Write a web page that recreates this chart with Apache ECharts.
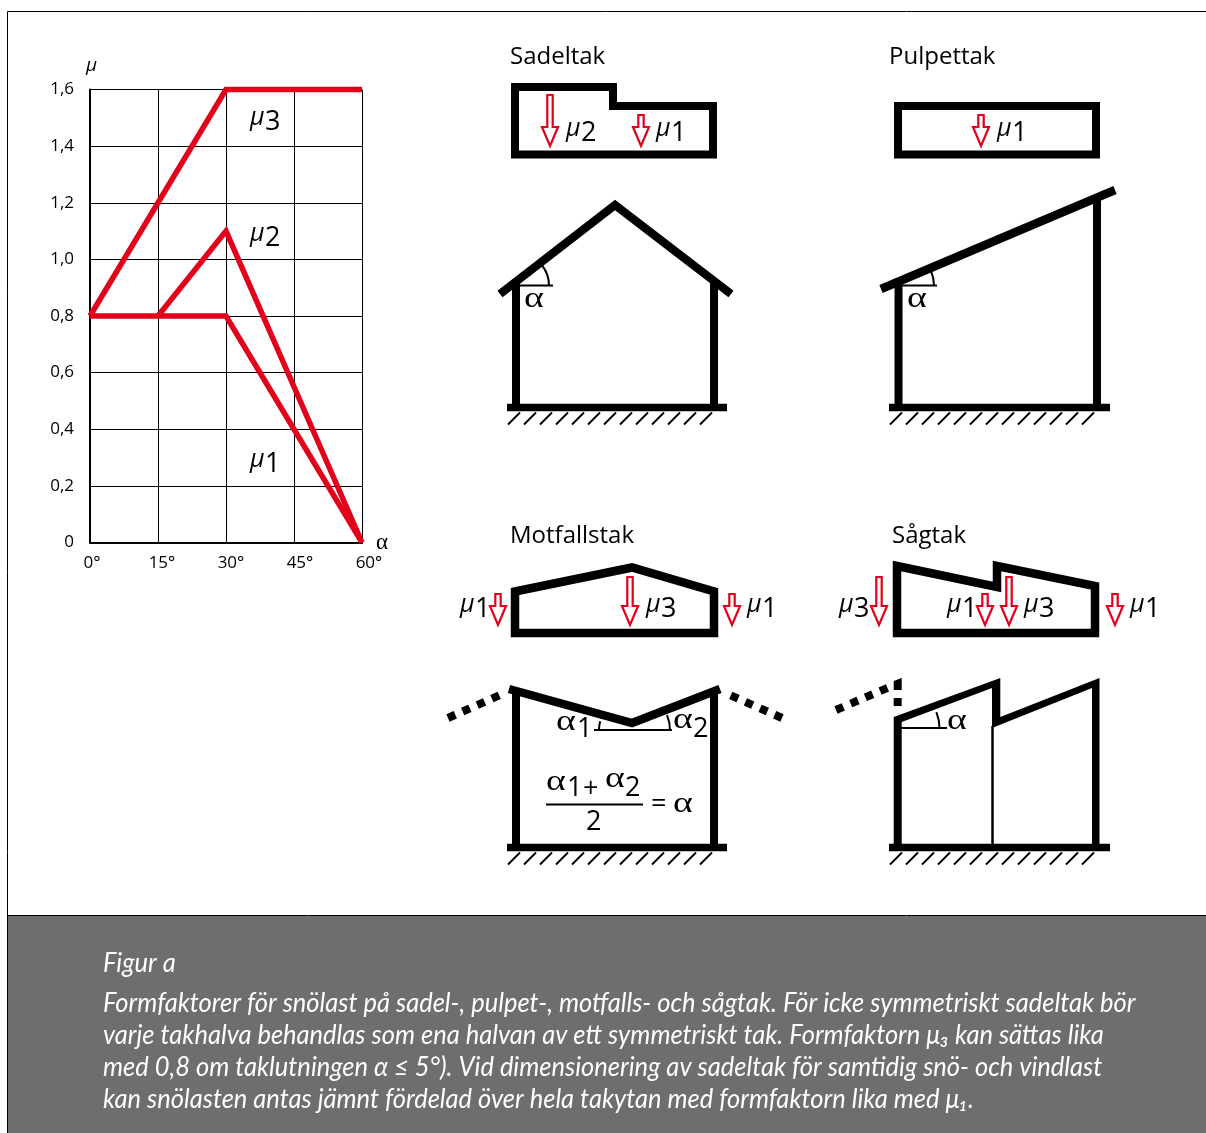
<!DOCTYPE html>
<html>
<head>
<meta charset="utf-8">
<title>Formfaktorer</title>
<script src="https://cdn.jsdelivr.net/npm/echarts@6/dist/echarts.min.js"></script>
<style>
  html, body { margin: 0; padding: 0; background: #fff; }
  #main { width: 1206px; height: 1133px; }
</style>
</head>
<body>
<div id="main"></div>
<script>
  // diagrammets data, alfa i grader och formfaktor
  var mu1Points = [[0, 0.8], [15, 0.8], [30, 0.8], [60, 0]];
  var mu2Points = [[15, 0.8], [30, 1.1], [60, 0]];
  var mu3Points = [[0, 0.8], [30, 1.6], [60, 1.6]];
  var alphaTicks = [0, 15, 30, 45, 60];
  var muLabels = [[3, 250, 131], [2, 250, 247], [1, 250, 473]];

  var captionLines = [
    'Figur a',
    'Formfaktorer för snölast på sadel-, pulpet-, motfalls- och sågtak. För icke symmetriskt sadeltak bör',
    'varje takhalva behandlas som ena halvan av ett symmetriskt tak. Formfaktorn μ₃ kan sättas lika',
    'med 0,8 om taklutningen α ≤ 5°). Vid dimensionering av sadeltak för samtidig snö- och vindlast',
    'kan snölasten antas jämnt fördelad över hela takytan med formfaktorn lika med μ₁.'
  ];
  var captionY = [963, 1003, 1035, 1067, 1099];

  var RED = '#e2001a';
  var SANS = '"Open Sans", sans-serif';
  var SERIF = '"Liberation Serif", serif';
  var els = [];

  function line(pts, w, extra) {
    var style = { stroke: '#000', lineWidth: w, fill: null, lineJoin: 'miter', miterLimit: 20, lineCap: 'butt' };
    if (extra) style.lineDash = extra;
    els.push({ type: 'polyline', silent: true, shape: { points: pts }, style: style });
  }
  function closed(pts, w) {
    els.push({ type: 'polygon', silent: true, shape: { points: pts },
      style: { stroke: '#000', lineWidth: w, fill: 'none', lineJoin: 'miter', miterLimit: 20 } });
  }
  function solid(pts) {
    els.push({ type: 'polygon', silent: true, shape: { points: pts }, style: { fill: '#000' } });
  }
  function txt(s, x, y, font, opt) {
    opt = opt || {};
    els.push({ type: 'text', silent: true, x: x, y: y, scaleX: opt.sx || 1, originX: 0, originY: 0,
      style: { text: s, x: 0, y: 0, font: font, fill: opt.fill || '#000',
        textAlign: opt.align || 'left', textVerticalAlign: 'middle' } });
  }
  // baseline = siffrans nederkant
  function mu(n, x, base) {
    txt('μ', x, base - 13, 'italic 25px ' + SANS);
    txt(String(n), x + 15, base - 8.5, '27px ' + SANS);
  }
  function alpha(x, y) {
    txt('α', x, y, '29px ' + SERIF, { sx: 1.3 });
  }
  function arrowShape(cx, top, head, tip) {
    els.push({ type: 'polygon', silent: true,
      shape: { points: [[cx - 2.7, top], [cx + 2.7, top], [cx + 2.7, head], [cx + 8, head], [cx, tip],
        [cx - 8, head], [cx - 2.7, head]] },
      style: { stroke: RED, lineWidth: 2.2, fill: '#fff', lineJoin: 'miter', miterLimit: 20 } });
  }
  function arrow(cx, top) { arrowShape(cx, top, 127, 146); }
  function arrowLow(cx, top) { arrowShape(cx, top, 606, 625); }
  function ground(x0, x1, y) {
    line([[x0, y], [x1, y]], 7.5);
    for (var i = 0; i < 13; i++) {
      var bx = x0 + 1 + i * 16;
      line([[bx, y + 17], [bx + 12, y + 5]], 2);
    }
  }
  function arc(cx, cy, r, a0, a1) {
    els.push({ type: 'arc', silent: true, shape: { cx: cx, cy: cy, r: r, startAngle: a0, endAngle: a1, clockwise: true },
      style: { stroke: '#000', lineWidth: 2, fill: null } });
  }

  // ram och bildtext
  els.push({ type: 'rect', silent: true, shape: { x: 8, y: 916, width: 1198, height: 217 }, style: { fill: '#6d6e70' } });
  line([[1206, 915.5], [8, 915.5]], 1);
  line([[1206, 11.5], [7.5, 11.5], [7.5, 1133]], 1);
  captionLines.forEach(function (s, i) {
    txt(s, 103, captionY[i], 'italic 27px Lato, sans-serif', { fill: '#fff', sx: 0.944 });
  });

  // rubriker
  txt('Sadeltak', 510, 57, '24px ' + SANS);
  txt('Pulpettak', 889, 57, '24px ' + SANS);
  txt('Motfallstak', 510, 536, '24px ' + SANS);
  txt('Sågtak', 892, 536, '24px ' + SANS);

  // mu-etiketter i diagrammet
  muLabels.forEach(function (m) { mu(m[0], m[1], m[2]); });

  // Sadeltak
  closed([[515, 87], [613, 87], [613, 106], [713, 106], [713, 154.5], [515, 154.5]], 8);
  arrow(550, 95); arrow(641, 115);
  mu(2, 566, 142); mu(1, 656, 142);
  line([[500, 294], [615, 205], [731, 294]], 8.5);
  line([[516, 283], [516, 407]], 8);
  line([[714, 283], [714, 407]], 8);
  ground(507, 727, 407.5);
  line([[518, 285.5], [553, 285.5]], 2);
  arc(516, 285.5, 33, -0.66, 0);
  alpha(524, 299);

  // Pulpettak
  closed([[898, 106], [1096, 106], [1096, 154.5], [898, 154.5]], 8);
  arrow(981, 115);
  mu(1, 997, 142);
  line([[881, 289], [1115, 190]], 8.5);
  line([[898.5, 285], [898.5, 407]], 8);
  line([[1097, 198], [1097, 407]], 8);
  ground(889, 1110, 407.5);
  line([[902, 285.5], [937, 285.5]], 2);
  arc(898, 285.5, 36, -0.4, 0);
  alpha(907, 299);

  // Motfallstak
  closed([[515, 591.5], [632, 567.5], [714, 591.5], [714, 633], [515, 633]], 8.5);
  arrowLow(498, 594); arrowLow(630, 577); arrowLow(732, 594);
  mu(1, 460, 618); mu(3, 646, 618); mu(1, 747, 618);
  line([[509, 689], [632, 723], [720, 689]], 8.5);
  line([[516, 689], [516, 847]], 8);
  line([[714, 689], [714, 847]], 8);
  ground(507, 727, 847.5);
  line([[448, 718], [500, 695]], 8, [8, 8]);
  line([[782, 718], [730, 695]], 8, [8, 8]);
  line([[594, 730], [672, 730]], 2);
  arc(632, 730, 33, Math.PI, Math.PI + 0.27);
  arc(632, 730, 38, -0.4, 0);
  alpha(556, 722); txt('1', 577, 729, '27px ' + SANS);
  alpha(673, 720); txt('2', 693, 729, '27px ' + SANS);
  line([[546, 804.5], [643, 804.5]], 2);
  alpha(546, 782); txt('1', 567, 788, '27px ' + SANS);
  txt('+', 583, 789, '27px ' + SANS);
  alpha(605, 779); txt('2', 625, 788, '27px ' + SANS);
  txt('2', 586, 822, '27px ' + SANS);
  txt('=', 651, 804, '27px ' + SANS);
  alpha(673, 804);

  // Sågtak
  closed([[897, 566], [997, 587], [997, 566], [1095, 586], [1095, 633], [897, 633]], 8.5);
  arrowLow(879, 577); arrowLow(985, 594); arrowLow(1009, 577); arrowLow(1115, 594);
  mu(3, 839, 618); mu(1, 947, 618); mu(3, 1024, 618); mu(1, 1130, 618);
  solid([[893.7, 847], [893.7, 717], [1000.3, 678], [1000.3, 717], [1099.5, 678], [1099.5, 847], [1092, 847],
    [1092, 688], [992, 728], [992, 688], [901.7, 722], [901.7, 847]]);
  line([[992.5, 726], [992.5, 847]], 2.5);
  line([[897.7, 698], [897.7, 706]], 8);
  solid([[893.7, 690], [901.7, 690], [901.7, 678], [893.7, 681]]);
  line([[836, 710], [892, 686]], 8, [8, 8]);
  ground(889, 1110, 847.5);
  line([[901, 728], [947, 728]], 2);
  arc(897.5, 728, 42, -0.39, 0);
  alpha(947, 721);

  // etikettens vänsterpadding flyttar gradtexten så som i originalet
  var labelPad = { 0: 4, 15: 8, 30: 10, 45: 12, 60: 14 };
  var richLabels = {};
  alphaTicks.forEach(function (t) {
    richLabels['t' + t] = { color: '#000', fontSize: 17, fontFamily: SANS, padding: [0, 0, 0, labelPad[t]] };
  });

  var option = {
    backgroundColor: '#fff',
    animation: false,
    textStyle: { fontFamily: SANS },
    grid: { left: 90, right: 844, top: 89.5, bottom: 590.5 },
    xAxis: {
      type: 'value', min: 0, max: 60, interval: 15,
      name: 'α', nameLocation: 'end', nameGap: 14,
      nameTextStyle: { fontFamily: SERIF, fontSize: 23, color: '#000', verticalAlign: 'middle', padding: [0, 0, 4, 0] },
      axisLine: { show: true, lineStyle: { color: '#000', width: 2 } },
      axisTick: { show: false },
      axisLabel: { color: '#000', fontSize: 17, margin: 12, rich: richLabels,
        formatter: function (v) { return '{t' + v + '|' + v + '°}'; } },
      splitLine: { show: true, lineStyle: { color: '#000', width: 1 } }
    },
    yAxis: {
      type: 'value', min: 0, max: 1.6, interval: 0.2,
      name: 'μ', nameLocation: 'end', nameGap: 14,
      nameTextStyle: { fontFamily: SANS, fontStyle: 'italic', fontSize: 19, color: '#000', padding: [0, 0, 0, 3] },
      axisLine: { show: true, onZero: false, lineStyle: { color: '#000', width: 2 } },
      axisTick: { show: false },
      axisLabel: { color: '#000', fontSize: 17, margin: 16,
        formatter: function (v) { return v === 0 ? '0' : v.toFixed(1).replace('.', ','); } },
      splitLine: { show: true, lineStyle: { color: '#000', width: 1 } }
    },
    series: [mu1Points, mu2Points, mu3Points].map(function (pts, i) {
      return {
        name: 'μ' + (i + 1), type: 'line', data: pts, symbol: 'none', clip: false, z: 5,
        lineStyle: { color: RED, width: 5.5, cap: 'butt', join: 'miter', miterLimit: 20 }
      };
    }),
    graphic: { elements: els }
  };

  var myChart = echarts.init(document.getElementById('main'));
  myChart.setOption(option);
</script>
</body>
</html>
